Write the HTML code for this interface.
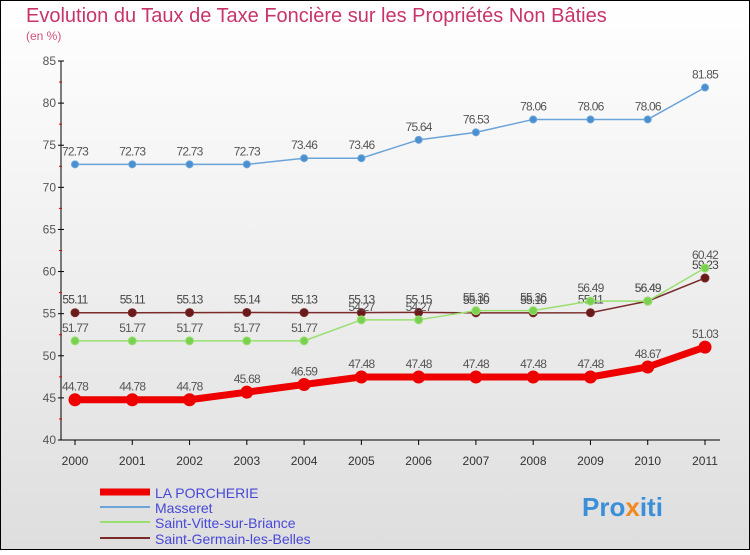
<!DOCTYPE html>
<html><head><meta charset="utf-8"><style>
body{margin:0}
#c{width:750px;height:550px;position:relative;font-family:"Liberation Sans",sans-serif}
</style></head><body>
<div id="c">
<svg id="s" width="750" height="550" xmlns="http://www.w3.org/2000/svg">
<defs><linearGradient id="bg" x1="0" y1="0" x2="0" y2="1"><stop offset="0" stop-color="#ffffff"/><stop offset="1" stop-color="#dedede"/></linearGradient></defs>
<rect x="0.5" y="0.5" width="749" height="549" fill="url(#bg)" stroke="#000"/>
<text x="26" y="22" font-size="20" fill="#c8346a">Evolution du Taux de Taxe Foncière sur les Propriétés Non Bâties</text>
<text x="26" y="40" font-size="12" fill="#d0507a">(en %)</text>
<g id="axes"></g><g id="series"></g>
<g>
<line x1="100" y1="492" x2="150" y2="492" stroke="#ee0000" stroke-width="7"/>
<text x="155" y="498" font-size="14" fill="#4848d8">LA PORCHERIE</text>
<line x1="100" y1="507" x2="150" y2="507" stroke="#6aa4d8" stroke-width="2"/>
<text x="155" y="513" font-size="14" fill="#4848d8">Masseret</text>
<line x1="100" y1="522" x2="150" y2="522" stroke="#99e070" stroke-width="2"/>
<text x="155" y="528" font-size="14" fill="#4848d8">Saint-Vitte-sur-Briance</text>
<line x1="100" y1="538" x2="150" y2="538" stroke="#7a2a2a" stroke-width="2"/>
<text x="155" y="544" font-size="14" fill="#4848d8">Saint-Germain-les-Belles</text>
</g>
<text x="582" y="516" font-size="26" font-weight="bold" fill="#3a8fd8">Pro<tspan fill="#f08a20">x</tspan>iti</text>
</svg></div>
<script>
const years=[2000,2001,2002,2003,2004,2005,2006,2007,2008,2009,2010,2011];
const yTicks=[40,45,50,55,60,65,70,75,80,85];
const laPorcherie=[44.78,44.78,44.78,45.68,46.59,47.48,47.48,47.48,47.48,47.48,48.67,51.03];
const masseret=[72.73,72.73,72.73,72.73,73.46,73.46,75.64,76.53,78.06,78.06,78.06,81.85];
const saintVitte=[51.77,51.77,51.77,51.77,51.77,54.27,54.27,55.36,55.36,56.49,56.49,60.42];
const saintGermain=[55.11,55.11,55.13,55.14,55.13,55.13,55.15,55.10,55.10,55.11,56.49,59.23];
const NS="http://www.w3.org/2000/svg";
const x=i=>75+i*(630/11);
const y=v=>440-(v-40)*(379/45);
function mk(t,a,p){const e=document.createElementNS(NS,t);for(const k in a)e.setAttribute(k,a[k]);p.appendChild(e);return e;}
const ax=document.getElementById('axes');
const yl=mk('line',{x1:61,y1:61,x2:61,y2:440,stroke:'#000'},ax);


const xl=mk('line',{x1:61,y1:440,x2:720,y2:440,stroke:'#000'},ax);


yTicks.forEach(v=>{
 mk('line',{x1:58,y1:y(v),x2:64,y2:y(v),stroke:'#000'},ax);
 if(v<85)mk('line',{x1:59,y1:y(v+2.5),x2:62,y2:y(v+2.5),stroke:'#d00'},ax);
 const t=mk('text',{x:56,y:y(v)+4,'font-size':12,fill:'#555','text-anchor':'end'},ax);
 t.textContent=v;
 
 
});
years.forEach((yr,i)=>{
 mk('line',{x1:x(i),y1:440,x2:x(i),y2:445,stroke:'#000'},ax);
 const t=mk('text',{x:x(i),y:465,'font-size':12,fill:'#333','text-anchor':'middle'},ax);
 t.textContent=yr;
 
 
});
const sg=document.getElementById('series');
function draw(vals,color,w,r,dot,name,lc){
 const g=mk('g',{},sg);
 
 
 mk('polyline',{points:vals.map((v,i)=>x(i)+','+y(v)).join(' '),fill:'none',stroke:color,'stroke-width':w,'stroke-linejoin':'round'},g);
 vals.forEach((v,i)=>{
  const c=mk('circle',{cx:x(i),cy:y(v),r:r,fill:dot,stroke:color,'stroke-width':1},g);
  
  
  const t=mk('text',{x:x(i),y:y(v)-9,'font-size':12,fill:lc,'text-anchor':'middle','letter-spacing':'-0.8'},g);
  t.textContent=v.toFixed(2);
  
  
 });
}
draw(masseret,'#6aa4d8',1.5,3.5,'#4a90d0','series-masseret','#555');
draw(saintGermain,'#7a2a2a',1.5,4,'#6a1a1a','series-saint-germain','#444');
draw(saintVitte,'#99e070',1.5,4,'#7ad050','series-saint-vitte','#555');
draw(laPorcherie,'#ee0000',7,6,'#ee0000','series-la-porcherie','#555');
</script>
</body></html>
